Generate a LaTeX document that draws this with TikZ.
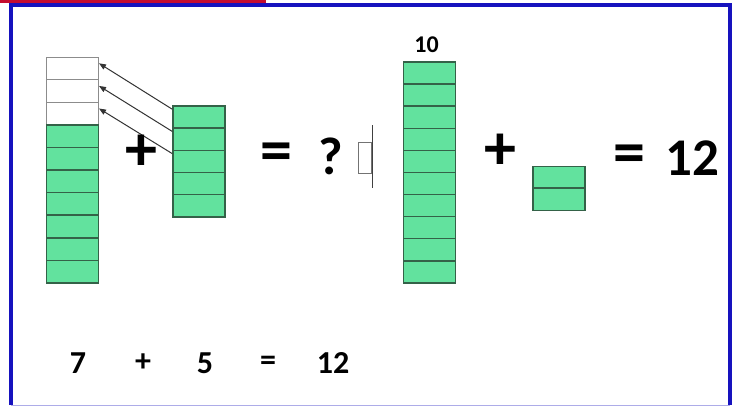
\documentclass[tikz,border=0pt]{standalone}
\usepackage{fontspec}
\setmainfont{Carlito}
\usetikzlibrary{arrows.meta,positioning}
\definecolor{cellgreen}{RGB}{98,226,158}
\definecolor{celledge}{RGB}{52,98,72}
\definecolor{framblue}{RGB}{22,18,190}
\definecolor{topred}{RGB}{196,12,48}

\begin{document}
\begin{tikzpicture}[
  x=1pt, y=-1pt,
  cell/.style={draw=celledge, line width=1.4pt, fill=cellgreen,
    minimum width=52pt, minimum height=22.3pt, inner sep=0pt},
  empty/.style={cell, draw=black!45, line width=1pt, fill=white},
  big/.style={font=\fontsize{53}{58}\selectfont\bfseries, inner sep=0pt},
  sign/.style={font=\fontsize{64}{70}\selectfont\bfseries, inner sep=0pt},
  sum/.style={font=\fontsize{32}{38}\selectfont\bfseries, inner sep=0pt},
  move/.style={-{Triangle[length=7pt,width=5.5pt]}, line width=1pt, draw=black!80}
]
\useasboundingbox (0,0) rectangle (734,407);
% frame
\draw[framblue!35, line width=1.5pt] (11,405.5) -- (730,405.5);
\draw[framblue, line width=4pt] (11,405) -- (11,5) -- (730,5) -- (730,405);
\fill[topred] (0,0) rectangle (266,3);

% left stack: 3 empty + 7 green
\foreach \i in {1,...,10} {
  \ifnum\i<4
    \node[empty] (a\i) at (72.5, 57+22.6*\i-11.3) {};
  \else
    \node[cell] (a\i) at (72.5, 57+22.6*\i-11.3) {};
  \fi
}
% five to add
\foreach \i in {1,...,5}
  \node[cell] (b\i) at (199, 106+22.2*\i-11.1) {};
% moves into the empty places
\foreach \i in {1,2,3}
  \draw[move] ([yshift=-4pt]b\i.north west) -- ([yshift=5pt]a\i.east);

\node[sign] (plus1) at (141,153) {+};
\node[sign] (eq1) at (276,157) {=};
\node[big] (ask) at (331,156) {?};

% arrow glyph
\draw[black!55, line width=1pt] (358,142) rectangle (371,173);
\draw[black!75, line width=1pt] (372,125) -- (372,188);

% ten
\foreach \i in {1,...,10}
  \node[cell] (t\i) at (429.5, 62+22.1*\i-11.05) {};
\node[font=\fontsize{24}{28}\selectfont\bfseries, above=5pt of t1, xshift=-3pt] (ten) {10};

\node[sign] (plus2) at (500,152) {+};
\foreach \i in {1,2}
  \node[cell] (c\i) at (559, 167+21.5*\i-10.75) {};
\node[sign] (eq2) at (629,159) {=};
\node[big] (res) at (692,158) {12};

% bottom sum
\node[sum] (n7) at (78,363) {7};
\node[sum] (p) at (143,363) {+};
\node[sum] (n5) at (205,363) {5};
\node[sum] (e) at (268,363) {=};
\node[sum] (n12) at (333,363) {12};
\end{tikzpicture}
\end{document}
